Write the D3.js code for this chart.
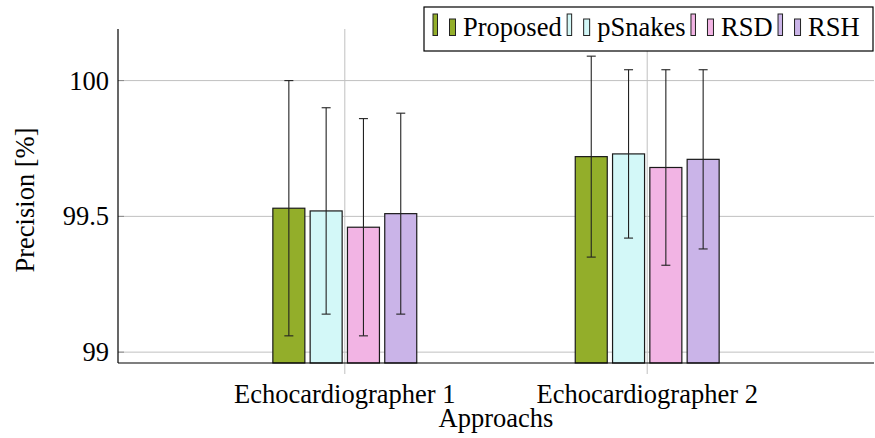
<!DOCTYPE html>
<html>
<head>
<meta charset="utf-8">
<script src="https://cdn.jsdelivr.net/npm/d3@7"></script>
<style>
  body { margin: 0; background: #fff; }
  svg { display: block; font-family: "Liberation Serif", "DejaVu Serif", serif; }
</style>
</head>
<body>
<div id="chart"></div>
<script>
// data
const categories = ["Echocardiographer 1", "Echocardiographer 2"];
const methods = ["Proposed", "pSnakes", "RSD", "RSH"];
const colors = ["#93ae2a", "#d3f8f8", "#f2b4e4", "#cab4e8"];
// mean precision per method, one array per category
const means = [
  [99.53, 99.52, 99.46, 99.51],
  [99.72, 99.73, 99.68, 99.71]
];
// error bar half width
const errors = [
  [0.47, 0.38, 0.40, 0.37],
  [0.37, 0.31, 0.36, 0.33]
];
const yTicks = [99, 99.5, 100];

const width = 875, height = 438;
const margin = { left: 118, right: 1, top: 29, bottom: 75 };
const fontSize = 26.5;

const svg = d3.select("#chart").append("svg")
  .attr("width", width)
  .attr("height", height);

const x = d3.scaleLinear()
  .domain([0.25, 2.75])
  .range([margin.left, width - margin.right]);

const y = d3.scaleLinear()
  .domain([98.96, 100.19])
  .range([height - margin.bottom, margin.top]);

const barW = 32, step = 37.3;

// grid lines
svg.append("g")
  .selectAll("line")
  .data(yTicks)
  .enter()
  .append("line")
  .attr("x1", margin.left)
  .attr("x2", width - margin.right)
  .attr("y1", d => y(d))
  .attr("y2", d => y(d))
  .attr("stroke", "#c0c0c0")
  .attr("stroke-width", 1);

svg.append("g")
  .selectAll("line")
  .data(categories)
  .enter()
  .append("line")
  .attr("x1", (d, i) => x(i + 1))
  .attr("x2", (d, i) => x(i + 1))
  .attr("y1", margin.top)
  .attr("y2", height - margin.bottom + 11)
  .attr("stroke", "#c0c0c0")
  .attr("stroke-width", 1);

// y ticks (inward)
svg.append("g")
  .selectAll("line")
  .data(yTicks)
  .enter()
  .append("line")
  .attr("x1", margin.left)
  .attr("x2", margin.left + 6)
  .attr("y1", d => y(d))
  .attr("y2", d => y(d))
  .attr("stroke", "#888")
  .attr("stroke-width", 1);

// bars
const groups = svg.append("g")
  .selectAll("g")
  .data(categories)
  .enter()
  .append("g");

groups.each(function (cat, ci) {
  const g = d3.select(this);
  const cx = x(ci + 1);
  methods.forEach((m, mi) => {
    const bx = cx + (mi - 1.5) * step;
    g.append("rect")
      .attr("x", bx - barW / 2)
      .attr("width", barW)
      .attr("y", y(means[ci][mi]))
      .attr("height", y.range()[0] - y(means[ci][mi]))
      .attr("fill", colors[mi])
      .attr("stroke", "#1a1a1a")
      .attr("stroke-width", 1.2);
    const hi = y(means[ci][mi] + errors[ci][mi]);
    const lo = y(means[ci][mi] - errors[ci][mi]);
    g.append("line")
      .attr("x1", bx).attr("x2", bx)
      .attr("y1", hi).attr("y2", lo)
      .attr("stroke", "#222").attr("stroke-width", 1.1);
    [hi, lo].forEach(v => {
      g.append("line")
        .attr("x1", bx - 4.5).attr("x2", bx + 4.5)
        .attr("y1", v).attr("y2", v)
        .attr("stroke", "#222").attr("stroke-width", 1.1);
    });
  });
});

// axis lines
svg.append("line")
  .attr("x1", margin.left).attr("x2", margin.left)
  .attr("y1", margin.top).attr("y2", y.range()[0])
  .attr("stroke", "#000").attr("stroke-width", 1.2);
svg.append("line")
  .attr("x1", margin.left).attr("x2", width - margin.right)
  .attr("y1", y.range()[0]).attr("y2", y.range()[0])
  .attr("stroke", "#000").attr("stroke-width", 1.2);

// tick labels
svg.append("g")
  .selectAll("text")
  .data(yTicks)
  .enter()
  .append("text")
  .attr("x", 109)
  .attr("y", d => y(d) + 9)
  .attr("text-anchor", "end")
  .attr("font-size", fontSize)
  .text(d => d3.format("")(d));

svg.append("g")
  .selectAll("text")
  .data(categories)
  .enter()
  .append("text")
  .attr("x", (d, i) => x(i + 1))
  .attr("y", 403)
  .attr("text-anchor", "middle")
  .attr("font-size", fontSize)
  .text(d => d);

// axis titles
svg.append("text")
  .attr("x", (margin.left + width - margin.right) / 2)
  .attr("y", 427)
  .attr("text-anchor", "middle")
  .attr("font-size", fontSize)
  .text("Approachs");

svg.append("text")
  .attr("transform", "translate(34,200) rotate(-90)")
  .attr("text-anchor", "middle")
  .attr("font-size", fontSize)
  .text("Precision [%]");

// legend
const legend = svg.append("g");
legend.append("rect")
  .attr("x", 424).attr("y", 7)
  .attr("width", 449).attr("height", 44)
  .attr("fill", "#fff")
  .attr("stroke", "#000").attr("stroke-width", 1.2);

// entries laid out one after another, like the tikz legend
let lx = 433;
methods.forEach((m, i) => {
  legend.append("rect")
    .attr("x", lx).attr("y", 14)
    .attr("width", 4.5).attr("height", 21.5)
    .attr("fill", colors[i]).attr("stroke", "#222").attr("stroke-width", 1);
  legend.append("rect")
    .attr("x", lx + 16.5).attr("y", 19)
    .attr("width", 6).attr("height", 16.5)
    .attr("fill", colors[i]).attr("stroke", "#222").attr("stroke-width", 1);
  const t = legend.append("text")
    .attr("x", lx + 30)
    .attr("y", 36)
    .attr("font-size", fontSize)
    .text(m);
  lx = lx + 30 + t.node().getComputedTextLength() + 5.5;
});
</script>
</body>
</html>
